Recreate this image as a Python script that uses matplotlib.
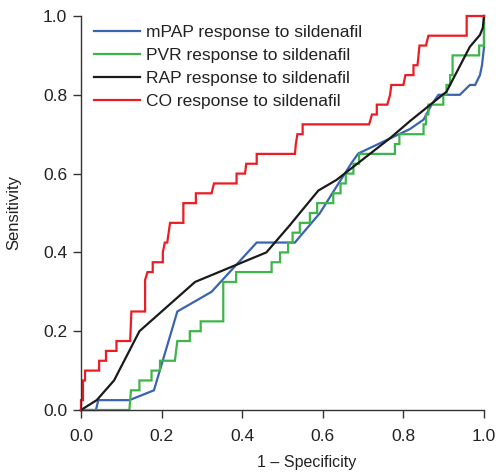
import matplotlib
matplotlib.use("Agg")
import matplotlib.pyplot as plt

plt.rcParams['font.family'] = ['Liberation Sans', 'DejaVu Sans']

labels = ["mPAP response to sildenafil", "PVR response to sildenafil",
          "RAP response to sildenafil", "CO response to sildenafil"]
colors = ["#3a63b0", "#3db54a", "#1a1a1a", "#ec1c24"]

mpap_x = [0, 0.037, 0.043, 0.12, 0.181, 0.239, 0.324, 0.436, 0.531, 0.543, 0.593, 0.626, 0.672, 0.688, 0.816, 0.85, 0.87, 0.887, 0.94, 0.965, 0.978, 0.99, 0.995, 1.0, 1.0]
mpap_y = [0, 0, 0.025, 0.025, 0.05, 0.25, 0.30, 0.425, 0.425, 0.44, 0.5, 0.554, 0.628, 0.651, 0.713, 0.737, 0.775, 0.8, 0.8, 0.825, 0.825, 0.85, 0.875, 0.92, 1.0]

pvr_x = [0, 0.12, 0.124, 0.145, 0.145, 0.175, 0.175, 0.196, 0.196, 0.233, 0.239, 0.27, 0.27, 0.297, 0.297, 0.353, 0.353, 0.385, 0.385, 0.473, 0.473, 0.494, 0.494, 0.514, 0.514, 0.525, 0.525, 0.543, 0.543, 0.568, 0.568, 0.586, 0.586, 0.626, 0.626, 0.644, 0.644, 0.657, 0.657, 0.676, 0.676, 0.69, 0.69, 0.779, 0.779, 0.79, 0.79, 0.85, 0.85, 0.856, 0.856, 0.862, 0.862, 0.899, 0.899, 0.907, 0.907, 0.916, 0.916, 0.922, 0.922, 0.988, 0.988, 1.0, 1.0]
pvr_y = [0, 0, 0.05, 0.05, 0.075, 0.075, 0.1, 0.1, 0.125, 0.125, 0.175, 0.175, 0.2, 0.2, 0.225, 0.225, 0.325, 0.325, 0.35, 0.35, 0.375, 0.375, 0.4, 0.4, 0.425, 0.425, 0.45, 0.45, 0.475, 0.475, 0.5, 0.5, 0.525, 0.525, 0.55, 0.55, 0.575, 0.575, 0.6, 0.6, 0.625, 0.625, 0.65, 0.65, 0.675, 0.675, 0.7, 0.7, 0.725, 0.725, 0.75, 0.75, 0.775, 0.775, 0.8, 0.8, 0.825, 0.825, 0.85, 0.85, 0.9, 0.9, 0.925, 0.925, 1.0]

rap_x = [0, 0.039, 0.082, 0.145, 0.283, 0.46, 0.519, 0.543, 0.589, 0.634, 0.767, 0.816, 0.907, 0.965, 0.99, 0.997, 1.0]
rap_y = [0, 0.025, 0.075, 0.2, 0.325, 0.4, 0.47, 0.5, 0.557, 0.584, 0.69, 0.733, 0.808, 0.922, 0.952, 0.97, 1.0]

co_x = [0, 0, 0.005, 0.005, 0.01, 0.01, 0.045, 0.045, 0.062, 0.062, 0.088, 0.088, 0.122, 0.125, 0.159, 0.159, 0.165, 0.178, 0.178, 0.203, 0.203, 0.208, 0.214, 0.221, 0.254, 0.254, 0.285, 0.285, 0.324, 0.33, 0.386, 0.386, 0.407, 0.41, 0.436, 0.436, 0.531, 0.533, 0.537, 0.55, 0.55, 0.715, 0.722, 0.734, 0.734, 0.760, 0.767, 0.77, 0.80, 0.805, 0.825, 0.825, 0.835, 0.84, 0.856, 0.862, 0.957, 0.957, 1.0]
co_y = [0, 0.025, 0.025, 0.075, 0.075, 0.1, 0.1, 0.125, 0.125, 0.15, 0.15, 0.175, 0.175, 0.25, 0.25, 0.33, 0.35, 0.35, 0.375, 0.375, 0.4, 0.425, 0.425, 0.475, 0.475, 0.525, 0.525, 0.55, 0.55, 0.575, 0.575, 0.6, 0.6, 0.625, 0.625, 0.65, 0.65, 0.675, 0.7, 0.7, 0.725, 0.725, 0.75, 0.75, 0.775, 0.775, 0.8, 0.825, 0.825, 0.85, 0.85, 0.875, 0.875, 0.925, 0.925, 0.95, 0.95, 1.0, 1.0]

ticks = [0.0, 0.2, 0.4, 0.6, 0.8, 1.0]

fig = plt.figure(figsize=(4.98, 4.75), dpi=100)
ax = fig.add_axes([81/498, 65/475, 403/498, 394/475])

series = [(mpap_x, mpap_y), (pvr_x, pvr_y), (rap_x, rap_y), (co_x, co_y)]
for (xs, ys), lab, c in zip(series, labels, colors):
    ax.plot(xs, ys, color=c, lw=1.6, label=lab, clip_on=False, solid_joinstyle='miter')

ax.set_xlim(0, 1)
ax.set_ylim(0, 1)
ax.set_xticks(ticks)
ax.set_yticks(ticks)
ax.set_xticklabels([f"{t:.1f}" for t in ticks])
ax.set_yticklabels([f"{t:.1f}" for t in ticks])
for s in ["top", "right"]:
    ax.spines[s].set_visible(False)
for s in ["left", "bottom"]:
    ax.spines[s].set_color("#333333")
    ax.spines[s].set_linewidth(1.0)
ax.tick_params(direction='out', length=6, width=1.0, color="#333333",
               labelsize=12.5, labelcolor="#222222")
ax.tick_params(axis='x', pad=7.5)
ax.tick_params(axis='y', pad=4)
ax.set_xlabel("1 – Specificity", fontsize=11.5, color="#222222")
ax.xaxis.set_label_coords((307 - 81) / 403, -0.114)
ax.set_ylabel("Sensitivity", fontsize=12, color="#222222")
ax.yaxis.set_label_coords((21 - 81) / 403, 0.5)

leg = ax.legend(loc='upper left', bbox_to_anchor=(6 / 403, 1 - 2 / 394), frameon=False,
                fontsize=12.5, handlelength=2.64, handletextpad=0.35,
                labelspacing=0.45, borderaxespad=0.0, borderpad=0.4)
for t in leg.get_texts():
    t.set_color("#222222")

fig.savefig("out.png", dpi=100)
